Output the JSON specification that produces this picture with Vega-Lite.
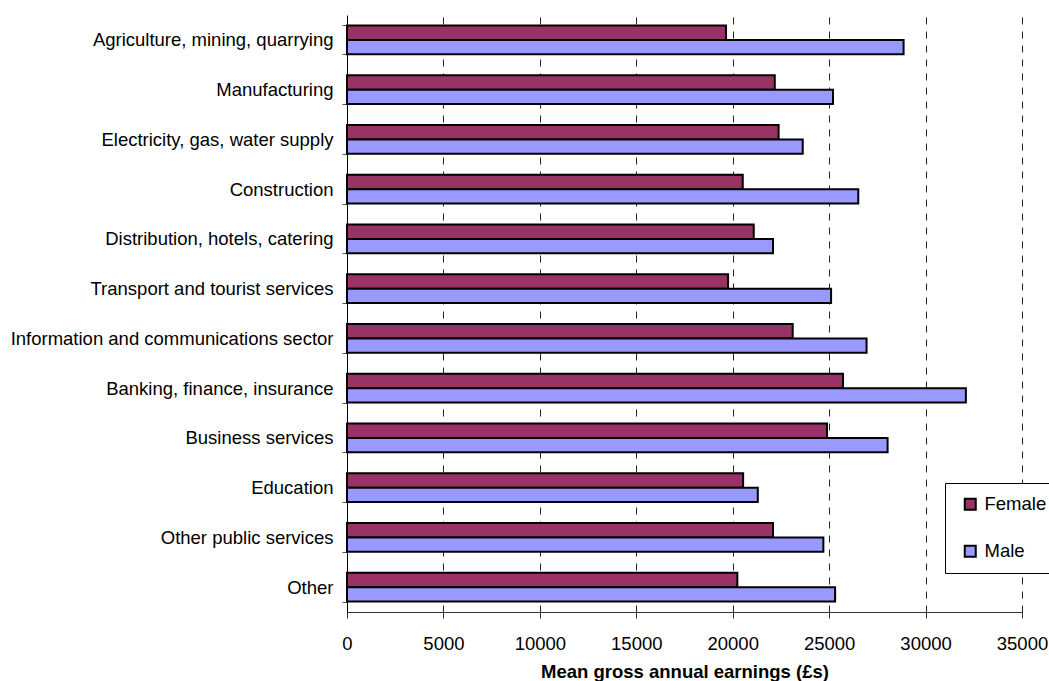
{
  "$schema": "https://vega.github.io/schema/vega-lite/v6.json",
  "autosize": {"type": "none"},
  "padding": {"left": 347, "top": 15, "right": 27, "bottom": 69},
  "width": 675,
  "height": 597,
  "background": "white",
  "config": {
    "font": "Liberation Sans",
    "view": {"stroke": null}
  },
  "data": {
    "values": [
      {"sector": "Agriculture, mining, quarrying", "sex": "Female", "earnings": 19650},
      {"sector": "Agriculture, mining, quarrying", "sex": "Male", "earnings": 28860},
      {"sector": "Manufacturing", "sex": "Female", "earnings": 22180},
      {"sector": "Manufacturing", "sex": "Male", "earnings": 25200},
      {"sector": "Electricity, gas, water supply", "sex": "Female", "earnings": 22380},
      {"sector": "Electricity, gas, water supply", "sex": "Male", "earnings": 23630},
      {"sector": "Construction", "sex": "Female", "earnings": 20520},
      {"sector": "Construction", "sex": "Male", "earnings": 26510},
      {"sector": "Distribution, hotels, catering", "sex": "Female", "earnings": 21090},
      {"sector": "Distribution, hotels, catering", "sex": "Male", "earnings": 22090},
      {"sector": "Transport and tourist services", "sex": "Female", "earnings": 19760},
      {"sector": "Transport and tourist services", "sex": "Male", "earnings": 25100},
      {"sector": "Information and communications sector", "sex": "Female", "earnings": 23110},
      {"sector": "Information and communications sector", "sex": "Male", "earnings": 26940},
      {"sector": "Banking, finance, insurance", "sex": "Female", "earnings": 25720},
      {"sector": "Banking, finance, insurance", "sex": "Male", "earnings": 32090},
      {"sector": "Business services", "sex": "Female", "earnings": 24890},
      {"sector": "Business services", "sex": "Male", "earnings": 28030},
      {"sector": "Education", "sex": "Female", "earnings": 20540},
      {"sector": "Education", "sex": "Male", "earnings": 21300},
      {"sector": "Other public services", "sex": "Female", "earnings": 22090},
      {"sector": "Other public services", "sex": "Male", "earnings": 24700},
      {"sector": "Other", "sex": "Female", "earnings": 20240},
      {"sector": "Other", "sex": "Male", "earnings": 25310}
    ]
  },
  "mark": {"type": "bar", "stroke": "black", "strokeWidth": 2},
  "encoding": {
    "y": {
      "field": "sector",
      "type": "nominal",
      "sort": null,
      "scale": {"paddingInner": 0.42, "paddingOuter": 0.21},
      "axis": {
        "title": null,
        "domainColor": "black",
        "domainWidth": 1,
        "tickBand": "extent",
        "tickSize": 5,
        "tickColor": "#555",
        "labelFontSize": 18.5,
        "labelColor": "black",
        "labelPadding": 9,
        "labelLimit": 400
      }
    },
    "yOffset": {
      "field": "sex",
      "type": "nominal",
      "sort": ["Female", "Male"],
      "scale": {"paddingInner": 0, "paddingOuter": 0}
    },
    "x": {
      "field": "earnings",
      "type": "quantitative",
      "scale": {"domain": [0, 35000], "nice": false},
      "axis": {
        "title": "Mean gross annual earnings (£s)",
        "titleFontSize": 18.5,
        "titleFontWeight": "bold",
        "titleColor": "black",
        "titlePadding": 10,
        "values": [0, 5000, 10000, 15000, 20000, 25000, 30000, 35000],
        "format": "d",
        "labelFontSize": 18.5,
        "labelColor": "black",
        "labelPadding": 16,
        "tickSize": 6,
        "tickColor": "#333",
        "domainColor": "#333",
        "grid": true,
        "gridColor": "#222",
        "gridDash": [7, 7],
        "gridWidth": 1,
        "labelFlush": false
      }
    },
    "color": {
      "field": "sex",
      "type": "nominal",
      "scale": {"domain": ["Female", "Male"], "range": ["#993366", "#9999FF"]},
      "legend": {
        "title": null,
        "orient": "none",
        "legendX": 598,
        "legendY": 468,
        "direction": "vertical",
        "fillColor": "white",
        "strokeColor": "black",
        "padding": 12,
        "symbolType": "square",
        "symbolSize": 121,
        "symbolStrokeColor": "black",
        "symbolStrokeWidth": 2,
        "symbolOffset": 4,
        "labelFontSize": 18.5,
        "labelColor": "black",
        "labelOffset": 5,
        "rowPadding": 27
      }
    }
  }
}
